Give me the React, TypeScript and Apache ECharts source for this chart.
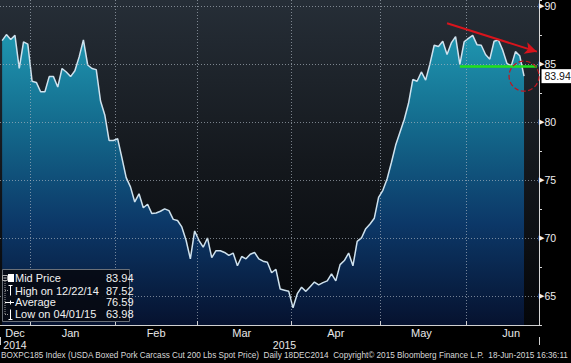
import React, { useEffect, useRef } from "react";
import * as echarts from "echarts";

// ---- data (trading days and values) ----
const decDays = [19, 22, 23, 24, 29, 30, 31];
const janDays = [2, 5, 6, 7, 8, 9, 12, 13, 14, 15, 16, 20, 21, 22, 23, 26, 27, 28, 29, 30];
const febDays = [2, 3, 4, 5, 6, 9, 10, 11, 12, 13, 17, 18, 19, 20, 23, 24, 25, 26, 27];
const marDays = [2, 3, 4, 5, 6, 9, 10, 11, 12, 13, 16, 17, 18, 19, 20, 23, 24, 25, 26, 27, 30, 31];
const aprDays = [1, 2, 6, 7, 8, 9, 10, 13, 14, 15, 16, 17, 20, 21, 22, 23, 24, 27, 28, 29, 30];
const mayDays = [1, 4, 5, 6, 7, 8, 11, 12, 13, 14, 15, 18, 19, 20, 21, 22, 26, 27, 28, 29];
const junDays = [1, 2, 3, 4, 5, 8, 9, 10, 11, 12, 15, 16, 17, 18];
const junPadDays = [19, 22, 23];

const decValues = [87.0, 87.52, 87.1, 87.45, 84.6, 86.9, 86.7];
const janValues = [83.5, 83.4, 82.6, 82.6, 83.9, 83.9, 83.0, 84.6, 84.3, 83.9, 84.4, 85.6, 87.06, 84.9, 84.6, 84.5, 81.8, 80.6, 78.4, 78.4];
const febValues = [78.55, 76.9, 75.2, 74.4, 73.1, 73.8, 72.6, 72.9, 72.1, 72.15, 72.3, 72.5, 72.35, 71.6, 71.5, 70.95, 69.8, 68.2, 70.6];
const marValues = [69.8, 69.2, 70.0, 68.3, 68.9, 68.9, 68.75, 68.5, 68.7, 67.6, 68.4, 68.2, 68.6, 68.75, 68.2, 68.0, 67.9, 67.0, 67.3, 65.6, 65.5, 65.4];
const aprValues = [63.98, 65.2, 65.75, 65.4, 65.8, 66.2, 65.95, 66.15, 66.3, 66.9, 66.3, 67.7, 68.05, 68.7, 67.6, 69.7, 70.0, 70.8, 71.2, 71.7, 73.5];
const mayValues = [74.1, 75.1, 76.5, 78.0, 79.1, 80.2, 81.6, 83.65, 83.5, 84.3, 83.6, 85.0, 86.6, 86.5, 86.95, 85.8, 86.8, 87.35, 84.95, 86.9];
const junValues = [87.2, 87.45, 86.65, 86.6, 85.8, 85.4, 86.95, 87.05, 86.2, 85.05, 84.8, 86.05, 85.7, 83.94];

const monthShort = ["Jan", "Feb", "Mar", "Apr", "May", "Jun", "Jul", "Aug", "Sep", "Oct", "Nov", "Dec"];
const monthLabelIdx = [3, 16, 36, 56, 78, 98, 119];
const yearLabelIdx = [3, 66];
const gridValues = [65, 70, 75, 80, 85, 90];

const statNames = ["Mid Price", "High on 12/22/14", "Average", "Low on 04/01/15"];
const statValues = [83.94, 87.52, 76.59, 63.98];

const supportLevel = 84.75;
const supportFromIdx = 107;
const trendFrom = [104, 88.5];
const trendTo = [125, 86.05];

const footer =
  "BOXPC185 Index (USDA Boxed Pork Carcass Cut 200 Lbs Spot Price)  Daily 18DEC2014  Copyright\u00A9 2015 Bloomberg Finance L.P.  18-Jun-2015 16:36:11";

// ---- build categories ----
const blocks: [number, number, number[], (number | null)[]][] = [
  [2014, 12, decDays, decValues],
  [2015, 1, janDays, janValues],
  [2015, 2, febDays, febValues],
  [2015, 3, marDays, marValues],
  [2015, 4, aprDays, aprValues],
  [2015, 5, mayDays, mayValues],
  [2015, 6, junDays, junValues],
  [2015, 6, junPadDays, junPadDays.map(() => null)],
];
const cats: string[] = [];
const vals: (number | string)[] = [];
blocks.forEach(([y, m, days, v]) => {
  days.forEach((d, k) => {
    cats.push(`${y}-${String(m).padStart(2, "0")}-${String(d).padStart(2, "0")}`);
    vals.push(v[k] == null ? "-" : (v[k] as number));
  });
});
const monthStarts = new Set<number>();
let yearStart = -1;
cats.forEach((c, i) => {
  if (i > 0 && c.slice(0, 7) !== cats[i - 1].slice(0, 7)) monthStarts.add(i);
  if (i > 0 && yearStart < 0 && c.slice(0, 4) !== cats[i - 1].slice(0, 4)) yearStart = i;
});
let lastIdx = 0;
vals.forEach((v, i) => {
  if (v !== "-") lastIdx = i;
});
const lastVal = vals[lastIdx] as number;

const FONT = "Liberation Sans, Arial, sans-serif";

export default function App() {
  const ref = useRef<HTMLDivElement>(null);
  useEffect(() => {
    if (!ref.current) return;
    const chart = echarts.init(ref.current, null, { renderer: "svg" });
    const gridLine = { type: [1, 2], color: "rgba(175,185,195,0.65)", width: 1 };
    const rowY = [278, 290.5, 302, 314];
    const graphics: any[] = [
      {
        type: "rect",
        shape: { x: 2.5, y: 269.5, width: 127, height: 52 },
        style: { fill: "rgba(6,10,18,0.92)", stroke: "#6a7078", lineWidth: 1 },
        z: 20,
      },
      { type: "rect", shape: { x: 2.5, y: 275.5, width: 5, height: 5 }, style: { fill: "none", stroke: "#aaa", lineWidth: 1 }, z: 21 },
      { type: "line", shape: { x1: 3.5, y1: 278, x2: 6.5, y2: 278 }, style: { stroke: "#ccc", lineWidth: 1 }, z: 21 },
      { type: "line", shape: { x1: 5, y1: 281, x2: 5, y2: 314 }, style: { stroke: "#999", lineWidth: 1, lineDash: [1, 1] }, z: 21 },
      { type: "rect", shape: { x: 8, y: 274, width: 6, height: 8 }, style: { fill: "#fff" }, z: 21 },
      { type: "line", shape: { x1: 5, y1: 290.5, x2: 8, y2: 290.5 }, style: { stroke: "#999", lineWidth: 1, lineDash: [1, 1] }, z: 21 },
      { type: "line", shape: { x1: 10.5, y1: 285.5, x2: 10.5, y2: 295.5 }, style: { stroke: "#fff", lineWidth: 1 }, z: 21 },
      { type: "line", shape: { x1: 8.5, y1: 285.5, x2: 12.5, y2: 285.5 }, style: { stroke: "#fff", lineWidth: 1 }, z: 21 },
      { type: "line", shape: { x1: 5, y1: 302.5, x2: 14, y2: 302.5 }, style: { stroke: "#fff", lineWidth: 1 }, z: 21 },
      { type: "line", shape: { x1: 10.5, y1: 300.5, x2: 10.5, y2: 304.5 }, style: { stroke: "#fff", lineWidth: 1 }, z: 21 },
      { type: "line", shape: { x1: 5, y1: 314.5, x2: 8, y2: 314.5 }, style: { stroke: "#999", lineWidth: 1, lineDash: [1, 1] }, z: 21 },
      { type: "line", shape: { x1: 10.5, y1: 309.5, x2: 10.5, y2: 319.5 }, style: { stroke: "#fff", lineWidth: 1 }, z: 21 },
      { type: "line", shape: { x1: 8.5, y1: 319.5, x2: 12.5, y2: 319.5 }, style: { stroke: "#fff", lineWidth: 1 }, z: 21 },
    ];
    statNames.forEach((n, k) => {
      graphics.push({
        type: "text",
        x: 15,
        y: rowY[k],
        z: 22,
        style: { text: n, fill: "#f2f2f2", fontSize: 11, fontFamily: FONT, verticalAlign: "middle", align: "left" },
      });
      graphics.push({
        type: "text",
        x: 106,
        y: rowY[k],
        z: 22,
        style: { text: statValues[k].toFixed(2), fill: "#f2f2f2", fontSize: 11, fontFamily: FONT, verticalAlign: "middle", align: "left" },
      });
    });

    chart.setOption({
      animation: false,
      backgroundColor: "#000",
      title: {
        text: footer,
        left: 1,
        top: 351,
        padding: 0,
        textStyle: { color: "#d8d8d8", fontSize: 8.2, fontWeight: "normal", fontFamily: FONT },
      },
      grid: {
        left: -2.5,
        right: 32,
        top: 0,
        bottom: 38,
        show: true,
        borderWidth: 0,
        backgroundColor: new echarts.graphic.LinearGradient(0, 0, 0, 1, [
          { offset: 0, color: "#262e37" },
          { offset: 0.5, color: "#14181d" },
          { offset: 1, color: "#040609" },
        ]),
      },
      xAxis: [
        {
          type: "category",
          data: cats,
          boundaryGap: true,
          z: 3,
          axisLine: { lineStyle: { color: "#d0d0d0", width: 1 } },
          axisTick: {
            show: true,
            inside: true,
            length: 4,
            interval: (i: number) => monthStarts.has(i),
            lineStyle: { color: "#d0d0d0" },
          },
          axisLabel: {
            interval: (i: number) => monthLabelIdx.includes(i),
            formatter: (v: string) => monthShort[parseInt(v.slice(5, 7), 10) - 1],
            color: "#e8e8e8",
            fontSize: 11,
            fontFamily: FONT,
            margin: 2,
          },
          splitLine: { show: true, interval: (i: number) => monthStarts.has(i), lineStyle: gridLine },
        },
        {
          type: "category",
          data: cats,
          boundaryGap: true,
          position: "bottom",
          offset: 12,
          axisLine: { show: false },
          axisTick: {
            show: true,
            length: 8,
            interval: (i: number) => i === yearStart,
            lineStyle: { color: "#cfcfcf" },
          },
          axisLabel: {
            interval: (i: number) => yearLabelIdx.includes(i),
            formatter: (v: string) => v.slice(0, 4),
            color: "#e8e8e8",
            fontSize: 10.5,
            fontFamily: FONT,
            margin: 2,
          },
          splitLine: { show: false },
        },
      ],
      yAxis: {
        type: "value",
        position: "right",
        min: 62.5,
        max: 90.5,
        interval: 2.5,
        z: 3,
        axisLine: { show: true, lineStyle: { color: "#d8d8d8" } },
        axisTick: { show: true, length: 3, lineStyle: { color: "#d8d8d8" } },
        axisLabel: {
          formatter: (v: number) => (v % 5 === 0 ? `{p|\u25B6}${v}` : ""),
          color: "#f0f0f0",
          fontSize: 10.5,
          fontFamily: FONT,
          margin: 0,
          rich: { p: { fontSize: 7, color: "#f0f0f0", fontFamily: "DejaVu Sans" } },
        },
        splitLine: { show: false },
      },
      series: [
        {
          type: "line",
          data: vals,
          symbol: "none",
          z: 2,
          lineStyle: { color: "#cfe2ee", width: 1.5 },
          areaStyle: {
            opacity: 1,
            color: new echarts.graphic.LinearGradient(0, 0, 0, 1, [
              { offset: 0, color: "#1f96b0" },
              { offset: 0.3, color: "#146c8e" },
              { offset: 0.65, color: "#0c3868" },
              { offset: 1, color: "#06122f" },
            ]),
          },
          markLine: {
            silent: true,
            symbol: "none",
            label: { show: false },
            data: [
              ...gridValues.map((v) => ({ yAxis: v, lineStyle: gridLine })),
              [
                { coord: [supportFromIdx, supportLevel], lineStyle: { color: "#22e01c", width: 2.5, type: "solid" } },
                { coord: [cats.length - 1, supportLevel] },
              ],
              [
                { coord: trendFrom, symbol: "none", lineStyle: { color: "#d8141c", width: 2, type: "solid" } },
                { coord: trendTo, symbol: "arrow", symbolSize: [9, 12] },
              ],
            ],
          },
          markPoint: {
            silent: true,
            data: [
              {
                coord: [lastIdx, lastVal],
                symbol: "circle",
                symbolSize: 30,
                itemStyle: { color: "rgba(0,0,0,0)", borderColor: "#c0161f", borderWidth: 1.2, borderType: "dashed" },
                label: { show: false },
              },
              {
                coord: [lastIdx, lastVal],
                symbol: "rect",
                symbolSize: 1,
                itemStyle: { color: "rgba(0,0,0,0)" },
                label: {
                  show: true,
                  position: "right",
                  distance: 17,
                  formatter: lastVal.toFixed(2),
                  backgroundColor: "#ffffff",
                  color: "#111",
                  fontSize: 10.5,
                  fontFamily: FONT,
                  padding: [2, 2, 1, 3],
                },
              },
            ],
          },
        },
      ],
      graphic: graphics,
    });
    return () => chart.dispose();
  }, []);
  return (
    <div
      ref={ref}
      style={{ position: "fixed", left: 0, top: 0, width: 571, height: 363, background: "#000" }}
    />
  );
}
